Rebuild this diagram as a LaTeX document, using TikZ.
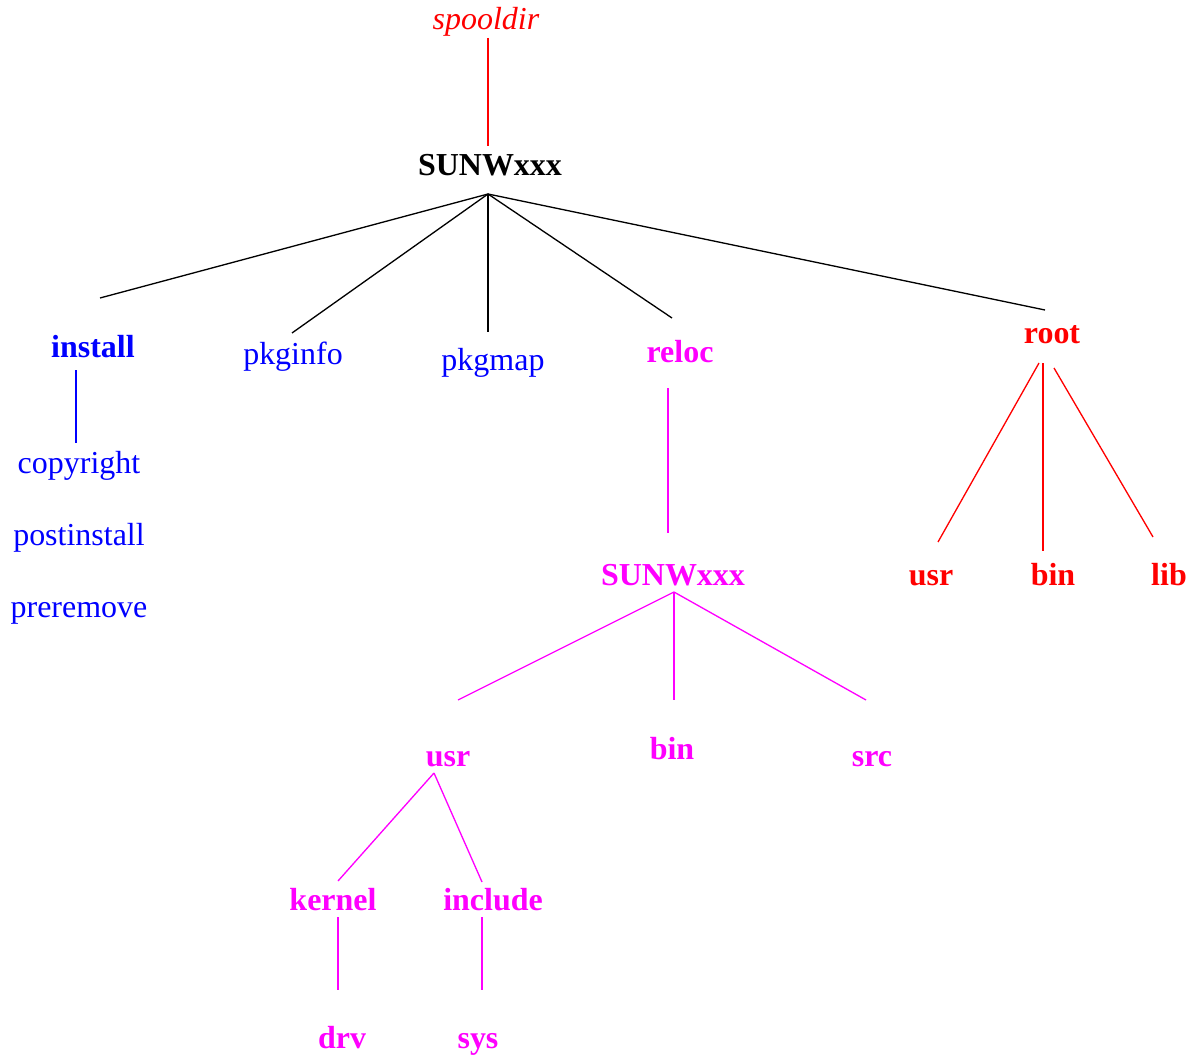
\documentclass[tikz,border=0pt]{standalone}
\usepackage{fontspec}
\setmainfont{Liberation Serif}
\definecolor{pkgblue}{RGB}{0,0,255}
\definecolor{pkgred}{RGB}{255,0,0}
\definecolor{pkgmag}{RGB}{255,0,255}
\begin{document}
\begin{tikzpicture}[x=0.02cm,y=-0.02cm,
  lbl/.style={anchor=base,inner sep=0pt,font=\fontsize{18.2}{22}\selectfont},
  dirb/.style={lbl,font=\fontsize{18.2}{22}\selectfont\bfseries},
  link/.style={line width=0.75pt}]
\useasboundingbox (0,0) rectangle (1199,1057);

% top level
\node[lbl,pkgred,font=\fontsize{18.2}{22}\selectfont\itshape] (spool) at (486,30) {spooldir};
\node[dirb] (pkg) at (490,176) {SUNWxxx};

% package contents
\node[dirb,pkgblue] (install) at (93,357) {install};
\node[lbl,pkgblue] (pkginfo) at (293,364) {pkginfo};
\node[lbl,pkgblue] (pkgmap) at (493,370) {pkgmap};
\node[dirb,pkgmag] (reloc) at (680,362) {reloc};
\node[dirb,pkgred] (root) at (1052,343) {root};

% install scripts
\node[lbl,pkgblue] (copyright) at (79,473) {copyright};
\node[lbl,pkgblue] (postinstall) at (79,545) {postinstall};
\node[lbl,pkgblue] (preremove) at (79,617) {preremove};

% relocatable tree
\node[dirb,pkgmag] (rpkg) at (673,585) {SUNWxxx};
\node[dirb,pkgmag] (rusr) at (448,766) {usr};
\node[dirb,pkgmag] (rbin) at (672,759) {bin};
\node[dirb,pkgmag] (rsrc) at (872,766) {src};
\node[dirb,pkgmag] (kernel) at (333,910) {kernel};
\node[dirb,pkgmag] (include) at (493,910) {include};
\node[dirb,pkgmag] (drv) at (342,1048) {drv};
\node[dirb,pkgmag] (sys) at (478,1048) {sys};

% root tree
\node[dirb,pkgred] (ousr) at (931,585) {usr};
\node[dirb,pkgred] (obin) at (1053,585) {bin};
\node[dirb,pkgred] (olib) at (1169,585) {lib};

% connector end points
\coordinate (spoolB) at (488,38);
\coordinate (pkgT) at (488,146);
\coordinate (pkgB) at (488,194);
\coordinate (installT) at (100,298);
\coordinate (pkginfoT) at (292,333);
\coordinate (pkgmapT) at (488,332);
\coordinate (relocT) at (672,318);
\coordinate (rootT) at (1045,310);
\coordinate (installB) at (76,370);
\coordinate (copyrightT) at (76,443);
\coordinate (relocB) at (668,388);
\coordinate (rpkgT) at (668,533);
\coordinate (rpkgB) at (674,592);
\coordinate (rusrT) at (458,700);
\coordinate (rbinT) at (674,700);
\coordinate (rsrcT) at (866,700);
\coordinate (rusrB) at (434,773);
\coordinate (kernelT) at (338,881);
\coordinate (includeT) at (482,882);
\coordinate (kernelB) at (338,917);
\coordinate (drvT) at (338,990);
\coordinate (includeB) at (482,917);
\coordinate (sysT) at (482,990);
\coordinate (rootB1) at (1039,363);
\coordinate (rootB2) at (1043,363);
\coordinate (rootB3) at (1054,368);
\coordinate (ousrT) at (938,542);
\coordinate (obinT) at (1043,551);
\coordinate (olibT) at (1153,537);

% connectors
\draw[link,pkgred] (spoolB) -- (pkgT);
\draw[link] (pkgB) -- (installT);
\draw[link] (pkgB) -- (pkginfoT);
\draw[link] (pkgB) -- (pkgmapT);
\draw[link] (pkgB) -- (relocT);
\draw[link] (pkgB) -- (rootT);
\draw[link,pkgblue] (installB) -- (copyrightT);
\draw[link,pkgmag] (relocB) -- (rpkgT);
\draw[link,pkgmag] (rpkgB) -- (rusrT);
\draw[link,pkgmag] (rpkgB) -- (rbinT);
\draw[link,pkgmag] (rpkgB) -- (rsrcT);
\draw[link,pkgmag] (rusrB) -- (kernelT);
\draw[link,pkgmag] (rusrB) -- (includeT);
\draw[link,pkgmag] (kernelB) -- (drvT);
\draw[link,pkgmag] (includeB) -- (sysT);
\draw[link,pkgred] (rootB1) -- (ousrT);
\draw[link,pkgred] (rootB2) -- (obinT);
\draw[link,pkgred] (rootB3) -- (olibT);
\end{tikzpicture}
\end{document}
